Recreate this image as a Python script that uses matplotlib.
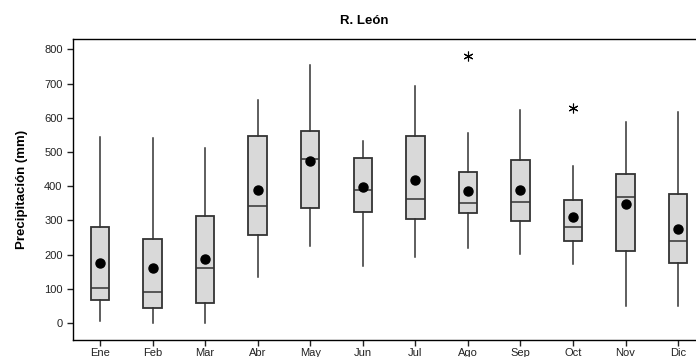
import matplotlib
matplotlib.use('Agg')
import matplotlib.pyplot as plt

plt.rcParams['font.family'] = ['Liberation Sans', 'DejaVu Sans']

meses = ['Ene', 'Feb', 'Mar', 'Abr', 'May', 'Jun', 'Jul', 'Ago', 'Sep', 'Oct', 'Nov', 'Dic']
minimo = [7, 0, 0, 134, 225, 166, 194, 220, 203, 173, 51, 49]
q1 = [66, 44, 58, 256, 337, 325, 305, 321, 297, 240, 211, 176]
mediana = [101, 90, 160, 343, 480, 389, 363, 350, 353, 280, 369, 240]
q3 = [280, 245, 314, 548, 561, 484, 548, 443, 478, 360, 436, 378]
maximo = [545, 541, 512, 651, 754, 531, 693, 557, 622, 458, 587, 618]
media = [175, 160, 188, 389, 473, 397, 419, 387, 390, 309, 347, 275]
atipicos = [[], [], [], [], [], [], [], [782], [], [628], [], []]

# armar las estadisticas para bxp
stats = []
for i in range(len(meses)):
    stats.append({'label': meses[i], 'whislo': minimo[i], 'q1': q1[i], 'med': mediana[i],
                  'q3': q3[i], 'whishi': maximo[i], 'mean': media[i], 'fliers': atipicos[i]})

fig = plt.figure(figsize=(6.96, 3.57), dpi=100)
ax = fig.add_axes([73 / 696, 17 / 357, 640 / 696, 301 / 357])

pos = list(range(1, len(meses) + 1))
ax.bxp(stats, positions=pos, widths=0.35, patch_artist=True, showmeans=True, showcaps=False,
       boxprops=dict(facecolor='#d9d9d9', edgecolor='#333333', linewidth=1.3),
       medianprops=dict(color='#333333', linewidth=1.1),
       whiskerprops=dict(color='#333333', linewidth=1.1),
       meanprops=dict(marker='o', markerfacecolor='black', markeredgecolor='black', markersize=6.5),
       flierprops=dict(marker=(6, 2, 0), markeredgecolor='black', markersize=7, markeredgewidth=0.8))

ax.set_xlim(0.486, 0.486 + 640 / 52.55)
ax.set_ylim(-49.7, 830.7)
ax.set_yticks(range(0, 801, 100))
ax.set_xticks(pos)
ax.set_xticklabels(meses)
ax.tick_params(axis='both', direction='out', length=4, width=1, labelsize=8, colors='#222222')
ax.tick_params(axis='x', pad=2)
ax.spines['right'].set_visible(False)
for s in ['left', 'bottom', 'top']:
    ax.spines[s].set_linewidth(1.0)
ax.set_ylabel('Precipitación (mm)', fontsize=9.5, fontweight='bold')
ax.yaxis.set_label_coords(-45 / 640, 0.5)
fig.text(364 / 696, 1 - 21 / 357, 'R. León', ha='center', va='center', fontsize=9.5, fontweight='bold')

fig.savefig('out.png', dpi=100)
